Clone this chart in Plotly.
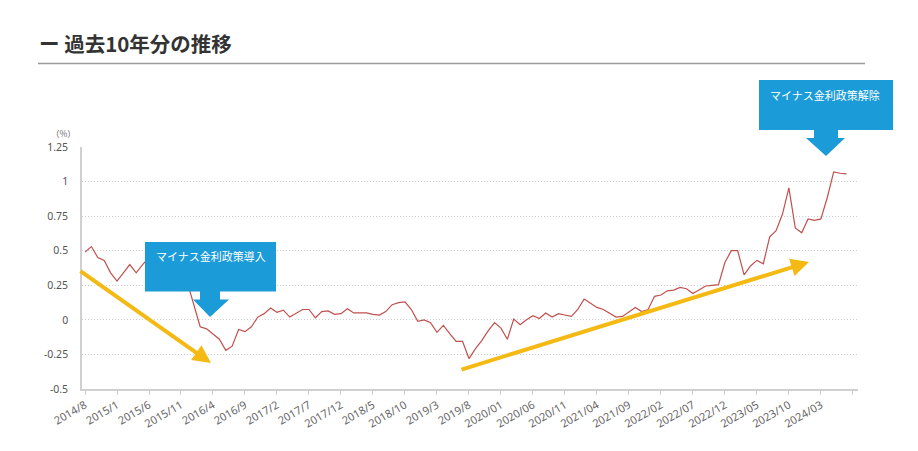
import plotly.graph_objects as go

# 10-year JGB yield, monthly, 2014/8 - 2024/7 (%)
yields = [
    0.49, 0.53, 0.45, 0.43, 0.34, 0.28, 0.34, 0.40, 0.34, 0.40,
    0.45, 0.41, 0.38, 0.35, 0.31, 0.30, 0.27, 0.10, -0.05, -0.065,
    -0.10, -0.14, -0.22, -0.19, -0.07, -0.085, -0.05, 0.02, 0.045, 0.085,
    0.055, 0.07, 0.02, 0.045, 0.075, 0.075, 0.015, 0.06, 0.065, 0.04,
    0.045, 0.08, 0.05, 0.05, 0.05, 0.04, 0.035, 0.06, 0.11, 0.125,
    0.13, 0.075, -0.01, 0.0, -0.02, -0.09, -0.04, -0.10, -0.155, -0.155,
    -0.28, -0.21, -0.15, -0.08, -0.02, -0.06, -0.14, 0.005, -0.035, 0.0,
    0.03, 0.01, 0.05, 0.02, 0.045, 0.035, 0.025, 0.075, 0.15, 0.12,
    0.09, 0.075, 0.045, 0.02, 0.025, 0.06, 0.09, 0.06, 0.075, 0.17,
    0.18, 0.21, 0.215, 0.235, 0.225, 0.19, 0.22, 0.245, 0.25, 0.255,
    0.415, 0.50, 0.50, 0.325, 0.39, 0.43, 0.405, 0.60, 0.645, 0.765,
    0.955, 0.665, 0.63, 0.73, 0.72, 0.73, 0.885, 1.07, 1.06, 1.055,
]
tick_labels = [
    "2014/8", "2015/1", "2015/6", "2015/11", "2016/4", "2016/9", "2017/2",
    "2017/7", "2017/12", "2018/5", "2018/10", "2019/3", "2019/8", "2020/01",
    "2020/06", "2020/11", "2021/04", "2021/09", "2022/02", "2022/07",
    "2022/12", "2023/05", "2023/10", "2024/03", "",
]
y_ticks = [-0.5, -0.25, 0, 0.25, 0.5, 0.75, 1, 1.25]
y_tick_labels = ["-0.5", "-0.25", "0", "0.25", "0.5", "0.75", "1", "1.25"]

W, H = 918, 451
PAGE = 8  # default body margin of the html page
# plot area in page pixels: x 82..858, y 147..389
L, T = 82 - PAGE, 147 - PAGE
R, B = W - (858 - PAGE), H - (389 - PAGE)
PW, PH = W - L - R, H - T - B

BLUE = "#1b9bd7"
YELLOW = "#f5b914"
JP = "Noto Sans CJK JP"


def px(x):
    return (x - PAGE - L) / PW


def py(y):
    return (H - B - (y - PAGE)) / PH


def callout(x0, x1, y0, y1, s0, s1, h0, h1, tip_x, tip_y):
    # box + downward block arrow, page pixel coords, drawn as a paper path
    pts = [(x0, y0), (x1, y0), (x1, y1), (s1, y1), (s1, y1 + 8), (h1, y1 + 8),
           (tip_x, tip_y), (h0, y1 + 8), (s0, y1 + 8), (s0, y1), (x0, y1)]
    path = "M " + " L ".join(f"{px(a):.5f},{py(b):.5f}" for a, b in pts) + " Z"
    return dict(type="path", xref="paper", yref="paper", path=path,
                fillcolor=BLUE, line=dict(width=0), layer="above")


fig = go.Figure()
fig.add_trace(go.Scatter(
    x=list(range(len(yields))), y=yields, mode="lines",
    line=dict(color="#c0504d", width=1.2), hoverinfo="y", showlegend=False,
))

fig.update_layout(
    width=W, height=H,
    margin=dict(l=L, r=R, t=T, b=B),
    paper_bgcolor="white", plot_bgcolor="white",
    font=dict(family=JP, color="#555"),
    xaxis=dict(
        range=[-0.47, 120.8], tickmode="array",
        tickvals=list(range(0, 121, 5)), ticktext=tick_labels,
        tickangle=-30, tickfont=dict(size=11, color="#666", family="Noto Sans"),
        ticks="outside", ticklen=4, tickcolor="#ccc",
        showgrid=False, zeroline=False,
        showline=True, linecolor="#d0d0d0", linewidth=1.5,
    ),
    yaxis=dict(
        range=[-0.5, 1.25], tickmode="array",
        tickvals=y_ticks, ticktext=y_tick_labels,
        tickfont=dict(size=10.5, color="#555", family="Noto Sans"),
        showgrid=True, gridcolor="#cfcfcf", griddash="1px,2px", gridwidth=1,
        zeroline=False, showline=True, linecolor="#d0d0d0", linewidth=1.5,
        ticks="", ticklabelstandoff=10,
    ),
    shapes=[
        dict(type="line", xref="paper", yref="paper",
             x0=px(38), x1=px(865), y0=py(63.5), y1=py(63.5),
             line=dict(color="#9a9a9a", width=1.5)),
        callout(145, 276, 242, 291.5, 200, 220, 193, 229, 210, 317),
        callout(759, 893, 80, 130, 814, 838, 806, 845, 826, 156),
    ],
    annotations=[
        dict(text="<b>ー 過去10年分の推移</b>", xref="paper", yref="paper",
             x=px(37), y=py(43), xanchor="left", yanchor="middle",
             showarrow=False, font=dict(size=20.5, color="#333", family=JP)),
        dict(text="（%）", xref="paper", yref="paper",
             x=px(78), y=py(133), xanchor="right", yanchor="middle",
             showarrow=False, font=dict(size=8.5, color="#666", family=JP)),
        dict(text="マイナス金利政策導入", xref="paper", yref="paper",
             x=px(154), y=py(256), xanchor="left", yanchor="middle",
             showarrow=False, font=dict(size=11, color="white", family=JP)),
        dict(text="マイナス金利政策解除", xref="paper", yref="paper",
             x=px(768), y=py(95), xanchor="left", yanchor="middle",
             showarrow=False, font=dict(size=11, color="white", family=JP)),
        dict(text="", xref="paper", yref="paper", x=px(211), y=py(363),
             ax=79 - 211, ay=270 - 363, showarrow=True,
             arrowhead=2, arrowsize=0.9, arrowwidth=4, arrowcolor=YELLOW),
        dict(text="", xref="paper", yref="paper", x=px(809), y=py(262),
             ax=460 - 809, ay=370 - 262, showarrow=True,
             arrowhead=2, arrowsize=0.9, arrowwidth=4, arrowcolor=YELLOW),
    ],
)

fig.write_html("out.html")
